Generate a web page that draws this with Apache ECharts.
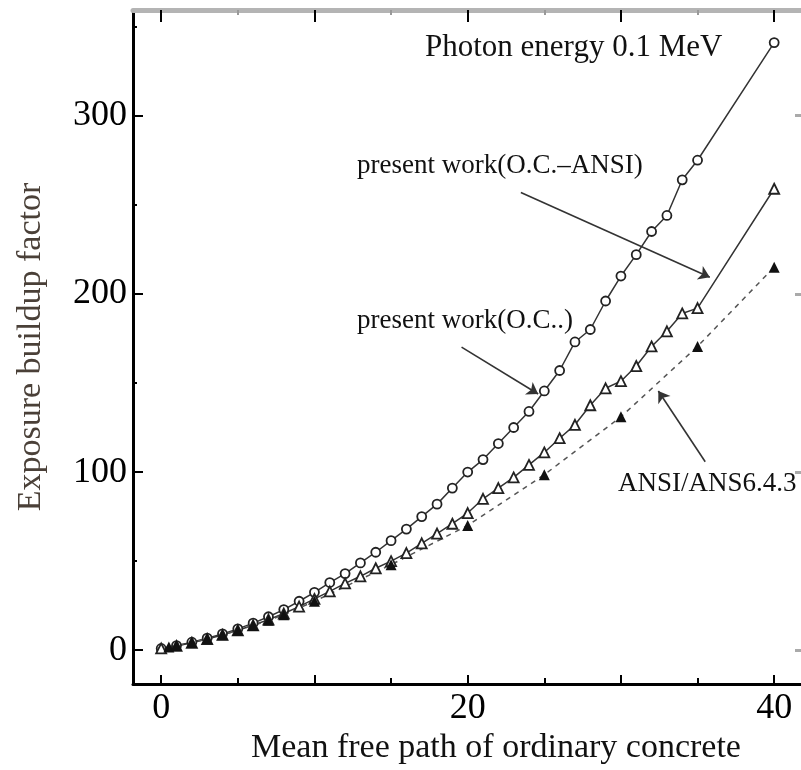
<!DOCTYPE html>
<html><head><meta charset="utf-8">
<script src="https://cdn.jsdelivr.net/npm/echarts@6/dist/echarts.min.js"></script>
<style>html,body{margin:0;padding:0;background:#fff}#c{width:801px;height:770px}</style>
</head><body><div id="c"></div>
<script>
// ---- data ----
const xPresent = [0,1,2,3,4,5,6,7,8,9,10,11,12,13,14,15,16,17,18,19,20,21,22,23,24,25,26,27,28,29,30,31,32,33,34,35,40];
const ocValues = [1,2.6,4.5,6.8,9.2,12,15.2,18.8,22.8,27.5,32.5,38,43,49,55,61.5,68,75,82,91,100,107,116,125,134,145.5,157,173,180,196,210,222,235,244,264,275,341];
const ocAnsiValues = [1,2.4,4.2,6.3,8.6,11.2,14,17.2,20.6,24.5,28.8,33,37.5,41.5,46,50,54.5,60,65.5,71,77,85,91,97,104,111,119,126.5,137.5,147,151,159.5,170.5,179,189,192,259];
const xAnsi = [0.5,1,2,3,4,5,6,7,8,10,15,20,25,30,35,40];
const ansiValues = [1.8,2.6,4.3,6.4,8.7,11.2,13.9,16.8,19.9,27.5,48,70,98.5,131,170.5,215];

const xMajorTicks = [0,10,20,30,40];
const xMinorTicks = [5,15,25,35];
const xTickLabels = [0,20,40];
const yMajorTicks = [0,100,200,300];
const yMinorTicks = [50,150,250,350];

const seriesNames = ['present work(O.C..)','present work(O.C.\u2013ANSI)','ANSI/ANS6.4.3'];
const titleText = 'Photon energy 0.1 MeV';
const xTitle = 'Mean free path of ordinary concrete';
const yTitle = 'Exposure buildup factor';

// arrows: [from, to] in data units
const arrows = [
  [[23.47,256.9],[35.8,209.3]],
  [[19.6,170.1],[24.6,143.8]],
  [[35.5,105.8],[32.44,145.5]]
];

const zip = (xs, ys) => xs.map((x,i)=>[x, ys[i]]);

const serif = '"Liberation Serif","Times New Roman",serif';
const X_MIN = -1.84, X_MAX = 41.75, Y_MIN = -19, Y_MAX = 359.3;
const ink = '#333';

function xAx(pos, ticks, len, color, width, extra) {
  return Object.assign({
    type:'value', position:pos, min:X_MIN, max:X_MAX,
    axisLine:{show:false, onZero:false},
    axisTick:{show:true, inside:true, length:len, customValues:ticks, lineStyle:{color:color, width:width}},
    axisLabel:{show:false}, splitLine:{show:false}
  }, extra||{});
}
function yAx(pos, ticks, len, color, width, extra) {
  return Object.assign({
    type:'value', position:pos, min:Y_MIN, max:Y_MAX,
    axisLine:{show:false, onZero:false},
    axisTick:{show:true, inside:true, length:len, customValues:ticks, lineStyle:{color:color, width:width}},
    axisLabel:{show:false}, splitLine:{show:false}
  }, extra||{});
}

const chart = echarts.init(document.getElementById('c'), null, {renderer:'canvas'});
chart.setOption({
  animation:false,
  backgroundColor:'#fff',
  grid:{left:133, top:10, right:-2, bottom:84, containLabel:false},
  xAxis:[
    xAx('bottom', xMajorTicks, 9, '#000', 2, {
      axisLine:{show:true, onZero:false, lineStyle:{color:'#000', width:3}},
      axisLabel:{show:true, customValues:xTickLabels, fontFamily:serif, fontSize:36, color:'#000', margin:6},
      name:xTitle, nameLocation:'middle', nameGap:46,
      nameTextStyle:{fontFamily:serif, fontSize:34, color:'#111', padding:[0,0,0,58]}
    }),
    xAx('bottom', xMinorTicks, 6, '#000', 2),
    xAx('top', xMajorTicks, 12, '#000', 2, {
      axisLine:{show:true, onZero:false, lineStyle:{color:'#b4b4b4', width:5}}
    }),
    xAx('top', xMinorTicks, 5, '#999', 2)
  ],
  yAxis:[
    yAx('left', yMajorTicks, 10, '#000', 2, {
      axisLine:{show:true, onZero:false, lineStyle:{color:'#000', width:3}},
      axisLabel:{show:true, customValues:yMajorTicks, fontFamily:serif, fontSize:36, color:'#000', margin:6},
      name:yTitle, nameLocation:'middle', nameGap:85, nameRotate:90,
      nameTextStyle:{fontFamily:serif, fontSize:34, color:'#4a4038'}
    }),
    yAx('left', yMinorTicks, 4, '#000', 2),
    yAx('right', yMajorTicks, 6, '#aaa', 3)
  ],
  series:[
    {
      name:seriesNames[0], type:'line', xAxisIndex:0, yAxisIndex:0,
      data:zip(xPresent, ocValues),
      symbol:'circle', symbolSize:9,
      lineStyle:{color:ink, width:1.5},
      itemStyle:{color:'#fff', borderColor:'#222', borderWidth:1.8},
      z:3
    },
    {
      name:seriesNames[1], type:'line', xAxisIndex:0, yAxisIndex:0,
      data:zip(xPresent, ocAnsiValues),
      symbol:'triangle', symbolSize:10,
      lineStyle:{color:ink, width:1.5},
      itemStyle:{color:'#fff', borderColor:'#222', borderWidth:1.8},
      z:3
    },
    {
      name:seriesNames[2], type:'line', xAxisIndex:0, yAxisIndex:0,
      data:zip(xAnsi, ansiValues),
      symbol:'triangle', symbolSize:11,
      lineStyle:{color:'#555', width:1.5, type:[5,5]},
      itemStyle:{color:'#111', borderColor:'#111', borderWidth:0},
      z:3,
      markLine:{
        silent:true, animation:false,
        symbol:['none','arrow'], symbolSize:11,
        label:{show:false},
        lineStyle:{color:'#333', width:1.6, type:'solid'},
        emphasis:{disabled:true},
        data: arrows.map(a => [{coord:a[0]},{coord:a[1]}])
      }
    }
  ],
  graphic:[
    {type:'text', x:425, y:48, style:{text:titleText, font:'31px '+serif, fill:'#111', align:'left', verticalAlign:'middle'}},
    {type:'text', x:357, y:166, style:{text:seriesNames[1], font:'27px '+serif, fill:'#111', align:'left', verticalAlign:'middle'}},
    {type:'text', x:357, y:321, style:{text:seriesNames[0], font:'27px '+serif, fill:'#111', align:'left', verticalAlign:'middle'}},
    {type:'text', x:618, y:484, style:{text:seriesNames[2], font:'27px '+serif, fill:'#111', align:'left', verticalAlign:'middle'}}
  ]
});
</script>
</body></html>
